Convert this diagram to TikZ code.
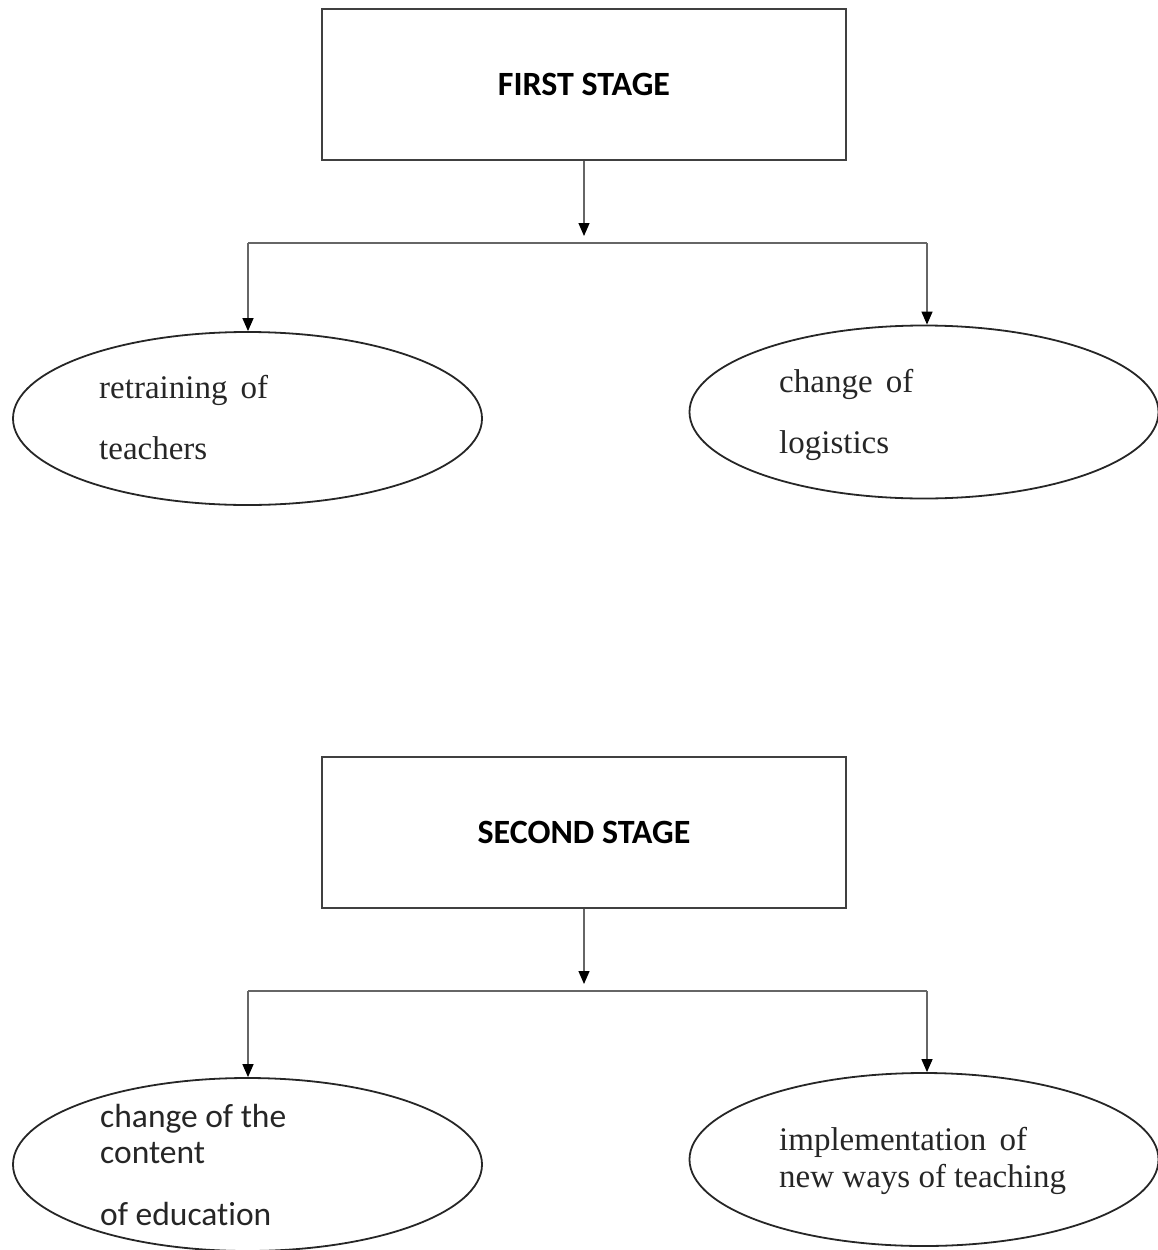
\documentclass[tikz,border=0pt]{standalone}
\usepackage{fontspec}
\setmainfont{Liberation Serif}
\newfontfamily\calibri{Carlito}[Ligatures=NoCommon]
\usetikzlibrary{arrows.meta, shapes.geometric}

\begin{document}
\begin{tikzpicture}[x=1pt, y=-1pt,
  stagebox/.style={draw=black!75, line width=2pt, minimum width=524pt, minimum height=151pt,
    font=\calibri\bfseries\fontsize{34}{40}\selectfont},
  oval/.style={draw=black!85, line width=1.8pt, ellipse, minimum width=469pt,
    minimum height=173pt, inner sep=0pt},
  txt/.style={anchor=base west, inner sep=0pt, text=black!85},
  serif/.style={txt, font=\fontsize{33}{39}\selectfont},
  sans/.style={txt, font=\calibri\fontsize{33.5}{39}\selectfont},
  link/.style={draw=black!60, line width=1.3pt},
  arr/.style={link, -{Triangle[length=13pt, width=11pt, color=black]}}
]
  \useasboundingbox (0,0) rectangle (1158,1250);

  % ---- first stage ----
  \node[stagebox] (stage1) at (584,84.5) {\raisebox{-3pt}{FIRST STAGE}};
  \coordinate (tip1) at (584,236);
  \coordinate (fork1l) at (248,243);
  \coordinate (fork1r) at (927,243);

  \node[oval] (retrain) at (247.5,418.5) {};
  \node[oval] (logist) at (924,412) {};

  \node[serif] (retrain1) at (99,398) {retraining\hspace{0.4em}of};
  \node[serif] (retrain2) at (99,459) {teachers};
  \node[serif] (logist1) at (779,392) {change\hspace{0.4em}of};
  \node[serif] (logist2) at (779,453) {logistics};

  \draw[arr] (stage1.south) -- (tip1);
  \draw[link] (fork1l) -- (fork1r);
  \draw[arr] (fork1l) -- (fork1l |- retrain.north);
  \draw[arr] (fork1r) -- (fork1r |- logist.north);

  % ---- second stage ----
  \node[stagebox] (stage2) at (584,832.5) {\raisebox{-3pt}{SECOND STAGE}};
  \coordinate (tip2) at (584,984);
  \coordinate (fork2l) at (248,991);
  \coordinate (fork2r) at (927,991);

  \node[oval] (content) at (247.5,1164.5) {};
  \node[oval] (ways) at (924,1159.5) {};

  \node[sans] (content1) at (100,1127) {change of the};
  \node[sans] (content2) at (100,1163) {content};
  \node[sans] (content3) at (100,1225) {of education};
  \node[serif] (ways1) at (779,1150) {implementation\hspace{0.4em}of};
  \node[serif] (ways2) at (779,1187) {new ways of teaching};

  \draw[arr] (stage2.south) -- (tip2);
  \draw[link] (fork2l) -- (fork2r);
  \draw[arr] (fork2l) -- (fork2l |- content.north);
  \draw[arr] (fork2r) -- (fork2r |- ways.north);
\end{tikzpicture}
\end{document}
